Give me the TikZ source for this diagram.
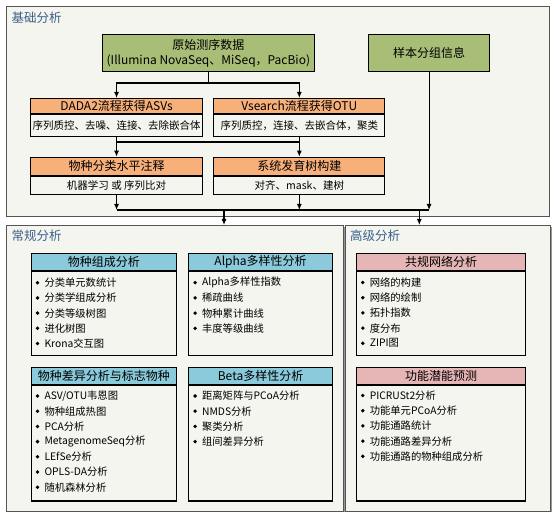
\documentclass[tikz,border=0pt]{standalone}
\usepackage{fontspec}
\setmainfont{Noto Sans CJK SC}
\usetikzlibrary{arrows.meta,calc}
\definecolor{bgc}{RGB}{243,245,238}
\definecolor{grn}{RGB}{168,190,118}
\definecolor{org}{RGB}{247,176,122}
\definecolor{blu}{RGB}{138,202,218}
\definecolor{pnk}{RGB}{230,181,181}
\definecolor{ttl}{RGB}{60,94,140}
\definecolor{pborder}{RGB}{85,85,85}
\definecolor{shd}{RGB}{150,150,150}
\newcommand{\hdfont}{\fontsize{12}{14}\selectfont}
\newcommand{\bdfont}{\fontsize{10.5}{12}\selectfont}
\newcommand{\itfont}{\fontsize{10.3}{12}\selectfont}
\newcommand{\twobox}[9]{%
  \node[box,fill=#7,minimum width=#4pt,minimum height=#5pt,font=\hdfont] (#1h) at (#2,#3) {#8};
  \node[box,fill=bgc,minimum width=#4pt,minimum height=#6pt,font=\bdfont] (#1b) at (#1h.south west) {#9};
}
\newcommand{\blist}[4]{%
  \foreach \t [count=\i from 0] in {#4} {
    \fill (#2+6.8,#3+\i*15.2) circle (1.9pt);
    \node[itm] (#1-\i) at (#2+13.6,#3+\i*15.2) {\t};
  }
}
\begin{document}
\begin{tikzpicture}[x=1pt,y=-1pt,
  panel/.style={draw=pborder,fill=bgc,line width=0.8pt,anchor=north west,inner sep=0pt},
  box/.style={draw=black,line width=1.1pt,anchor=north west,inner sep=0pt,align=center},
  ptitle/.style={anchor=west,inner sep=0pt,text=ttl,font=\fontsize{12.5}{14}\selectfont},
  itm/.style={anchor=west,inner sep=0pt,font=\itfont},
  ln/.style={line width=1.1pt},
  arr/.style={line width=1.1pt,-{Latex[length=6pt,width=5pt]}}]
\useasboundingbox (0,0) rectangle (556,518);
% panels
\fill[shd] (7.6,7.6) rectangle (550.3,217.4);
\node[panel,minimum width=542.7pt,minimum height=209.7pt] (ptop) at (6,6) {};
\fill[shd] (7.6,226.6) rectangle (344.6,512.2);
\node[panel,minimum width=337pt,minimum height=285.5pt] (pl) at (6,225) {};
\fill[shd] (346.6,226.6) rectangle (551.6,512.2);
\node[panel,minimum width=205pt,minimum height=285.5pt] (pr) at (345,225) {};
\node[ptitle] (t1) at (11.5,17.5) {基础分析};
\node[ptitle] (t2) at (11.5,236) {常规分析};
\node[ptitle] (t3) at (350,235.5) {高级分析};
% top boxes
\node[box,fill=grn,minimum width=211.7pt,minimum height=36.4pt,font=\hdfont] (raw) at (102,34.3)
  {原始测序数据\\[1pt](Illumina NovaSeq、MiSeq，PacBio)};
\node[box,fill=grn,minimum width=121pt,minimum height=36.4pt,font=\hdfont] (smp) at (368,34.3) {样本分组信息};
\twobox{dada}{30}{98}{172}{15}{22}{org}{DADA2流程获得ASVs}{序列质控、去噪、连接、去除嵌合体}
\twobox{vs}{213.3}{98}{171}{15}{22}{org}{Vsearch流程获得OTU}{序列质控，连接、去嵌合体，聚类}
\twobox{tax}{30}{156.7}{172}{18.3}{18.3}{org}{物种分类水平注释}{机器学习 或 序列比对}
\twobox{phy}{213.3}{156.7}{171}{18.3}{18.3}{org}{系统发育树构建}{对齐、mask、建树}
% connectors in top panel
\coordinate (j1) at (209,83);
\coordinate (j2) at (0,142);
\coordinate (j3) at (0,210);
\draw[ln] (raw.south) -- (raw.south |- j1);
\draw[arr] (raw.south |- j1) -| (dadah.north);
\draw[arr] (raw.south |- j1) -| (vsh.north);
\draw[arr] (dadab.south) -- (taxh.north);
\draw[arr] (vsb.south) -- (phyh.north);
\draw[ln] (dadab.south |- j2) -- (vsb.south |- j2);
\draw[arr] (taxb.south) -- (taxb.south |- j3);
\draw[arr] (phyb.south) -- (phyb.south |- j3);
\draw[arr] (smp.south) -- (smp.south |- j3);
\draw[ln] (taxb.south |- j3) -- (smp.south |- j3);
\coordinate (a1) at (224,210);
\coordinate (a2) at (419.3,210);
\draw[arr] (a1) -- (a1 |- pl.north);
\draw[arr] (a2) -- (a2 |- pr.north);
% lower boxes
\twobox{sp}{30.7}{253.3}{145}{16.7}{84}{blu}{物种组成分析}{}
\twobox{al}{188.3}{253.3}{143.4}{16.7}{84}{blu}{Alpha多样性分析}{}
\twobox{df}{30.7}{366.5}{145}{17.5}{115.3}{blu}{物种差异分析与标志物种}{}
\twobox{bt}{188.3}{366.5}{143.4}{17.5}{115.3}{blu}{Beta多样性分析}{}
\twobox{nw}{356}{253.3}{169.3}{16.7}{83.7}{pnk}{共规网络分析}{}
\twobox{fn}{356}{366.5}{169.3}{17.5}{115.3}{pnk}{功能潜能预测}{}
\blist{spl}{30.7}{282.7}{分类单元数统计,分类学组成分析,分类等级树图,进化树图,Krona交互图}
\blist{all}{188.3}{282.7}{Alpha多样性指数,稀疏曲线,物种累计曲线,丰度等级曲线}
\blist{dfl}{30.7}{396}{ASV/OTU韦恩图,物种组成热图,PCA分析,MetagenomeSeq分析,LEfSe分析,OPLS-DA分析,随机森林分析}
\blist{btl}{188.3}{396}{距离矩阵与PCoA分析,NMDS分析,聚类分析,组间差异分析}
\blist{nwl}{356}{282.5}{网络的构建,网络的绘制,拓扑指数,度分布,ZIPI图}
\blist{fnl}{356}{395.5}{PICRUSt2分析,功能单元PCoA分析,功能通路统计,功能通路差异分析,功能通路的物种组成分析}
\end{tikzpicture}
\end{document}
